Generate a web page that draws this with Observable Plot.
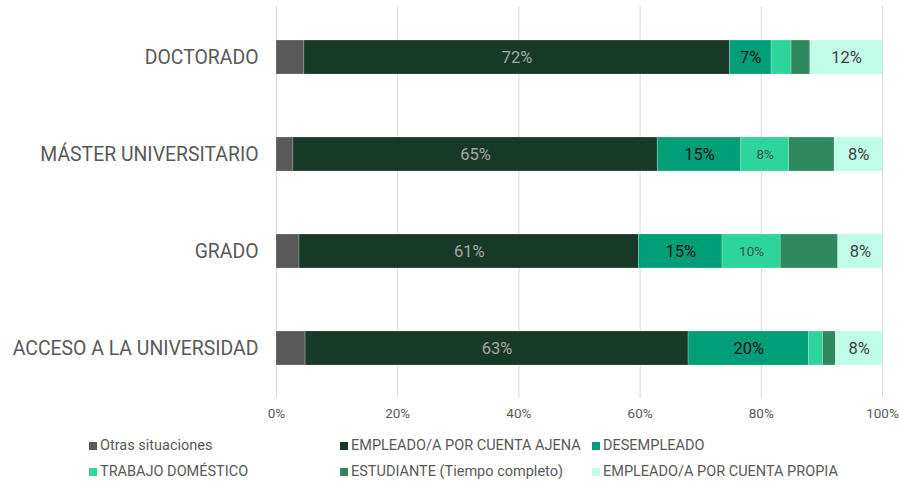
<!DOCTYPE html>
<html>
<head>
<meta charset="utf-8">
<script src="https://cdn.jsdelivr.net/npm/d3@7"></script>
<script src="https://cdn.jsdelivr.net/npm/@observablehq/plot@0.6"></script>
<style>
  body { margin: 0; background: #fff; font-family: Roboto, "Noto Sans", sans-serif; }
  #chart { width: 899px; }
  .legend { position: relative; height: 54px; width: 899px; font-size: 14.5px; color: #595959; }
  .legend .item { position: absolute; display: flex; align-items: center; white-space: nowrap; }
  .legend .sw { width: 8px; height: 8px; margin-right: 3px; }
</style>
</head>
<body>
<div id="chart"></div>
<script>
const levels = ["DOCTORADO", "MÁSTER UNIVERSITARIO", "GRADO", "ACCESO A LA UNIVERSIDAD"];
const situations = ["Otras situaciones", "EMPLEADO/A POR CUENTA AJENA", "DESEMPLEADO", "TRABAJO DOMÉSTICO", "ESTUDIANTE (Tiempo completo)", "EMPLEADO/A POR CUENTA PROPIA"];
const colors = ["#595959", "#173a28", "#009f78", "#2dd59c", "#2e8a5e", "#c0fde8"];
// share (%) per level, in the order of situations
const otras     = [4.6, 2.8, 3.8, 4.8];
const ajena     = [70.2, 60.1, 56.0, 63.2];
const desempleo = [6.9, 13.8, 13.8, 19.9];
const domestico = [3.3, 7.9, 9.6, 2.3];
const estudiante= [3.1, 7.5, 9.5, 2.1];
const propia    = [11.9, 7.9, 7.3, 7.7];
// segment labels as printed on the chart ("" = no label)
const labelsAjena     = ["72%", "65%", "61%", "63%"];
const labelsDesempleo = ["7%", "15%", "15%", "20%"];
const labelsDomestico = ["", "8%", "10%", ""];
const labelsPropia    = ["12%", "8%", "8%", "8%"];
const xTicks = [0, 0.2, 0.4, 0.6, 0.8, 1];

const series = [otras, ajena, desempleo, domestico, estudiante, propia];
const seriesLabels = [null, labelsAjena, labelsDesempleo, labelsDomestico, null, labelsPropia];
const labelColors = [null, "#a6a6a6", "#111111", "#3a5a4c", null, "#404040"];
const labelSizes = [null, 16.5, 16.5, 13.5, null, 16.5];

const data = [];
levels.forEach((lv, i) => {
  let x = 0;
  series.forEach((s, k) => {
    const v = s[i] / 100;
    data.push({level: lv, situation: situations[k], k, x1: x, x2: x + v,
      label: seriesLabels[k] ? seriesLabels[k][i] : ""});
    x += v;
  });
});

const textMarks = [1, 2, 3, 5].map(k => Plot.text(data.filter(d => d.k === k && d.label), {
  x: d => (d.x1 + d.x2) / 2, y: "level", text: "label",
  fill: labelColors[k], fontSize: labelSizes[k], fontFamily: "Roboto"
}));

const chart = Plot.plot({
  width: 899,
  height: 428,
  marginLeft: 276,
  marginRight: 17,
  marginTop: 6,
  marginBottom: 30,
  style: {fontFamily: "Roboto", background: "#fff"},
  x: {domain: [0, 1], ticks: xTicks, tickFormat: d3.format(".0%"), label: null},
  y: {domain: levels, label: null, paddingInner: 0.65, paddingOuter: 0.33},
  color: {domain: situations, range: colors},
  marks: [
    Plot.ruleX(xTicks, {stroke: "#d9d9d9", strokeWidth: 1}),
    Plot.barX(data, {x1: "x1", x2: "x2", y: "level", fill: "situation", stroke: "#ffffff", strokeOpacity: 0.35, strokeWidth: 0.6}),
    ...textMarks,
    Plot.axisX({ticks: xTicks, tickFormat: d3.format(".0%"), tickSize: 0, tickPadding: 10, fontSize: 13.5, color: "#595959", label: null}),
    Plot.axisY({tickSize: 0, tickPadding: 18, fontSize: 19.4, color: "#595959", label: null})
  ]
});
document.getElementById("chart").appendChild(chart);

// legend
const legend = document.createElement("div");
legend.className = "legend";
const colX = [89, 340, 592];
situations.forEach((s, i) => {
  const item = document.createElement("div");
  item.className = "item";
  item.style.left = colX[i % 3] + "px";
  item.style.top = (i < 3 ? 9 : 35) + "px";
  const sw = document.createElement("span");
  sw.className = "sw";
  sw.style.background = colors[i];
  const t = document.createElement("span");
  t.textContent = s;
  item.appendChild(sw); item.appendChild(t);
  legend.appendChild(item);
});
document.getElementById("chart").appendChild(legend);
</script>
</body>
</html>
